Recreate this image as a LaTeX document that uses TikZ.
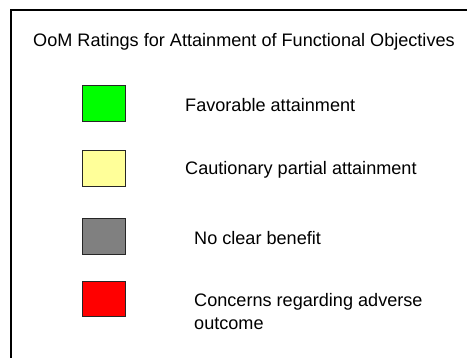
\documentclass[tikz,border=0pt]{standalone}
\usepackage{fontspec}
\setmainfont{Liberation Sans}
\usetikzlibrary{positioning}
\definecolor{favgreen}{RGB}{0, 255, 0}
\definecolor{cautyellow}{RGB}{255, 255, 153}
\definecolor{nogray}{RGB}{128, 128, 128}
\definecolor{concred}{RGB}{255, 0, 0}

\begin{document}
\begin{tikzpicture}[x=1pt, y=-1pt,
    swatch/.style={draw=black!85, line width=0.9pt, minimum width=43.4pt, minimum height=35.3pt, inner sep=0pt},
    legtext/.style={anchor=base west, inner sep=0pt, align=left, font=\fontsize{18.1}{23.3}\selectfont}]
        \useasboundingbox (0,0) rectangle (467,358);
        \clip (0,0) rectangle (467,358);

        % Legend frame (runs off the right and bottom edges)
        \draw[line width=1.5pt] (11,10) rectangle (490,380);

        % Title
        \node[legtext] (title) at (33,46.7) {OoM Ratings for Attainment of Functional Objectives};

        % Colour swatches
        \node[swatch, fill=favgreen] (sgreen) at (104,103.4) {};
        \node[swatch, fill=cautyellow] (syellow) at (104,168.4) {};
        \node[swatch, fill=nogray] (sgray) at (104,236.5) {};
        \node[swatch, fill=concred] (sred) at (104,299.3) {};

        % Rating descriptions (base of a two-line node is its last line)
        \node[legtext] (tgreen) at (185,111.7) {Favorable attainment};
        \node[legtext] (tyellow) at (185,175) {Cautionary partial attainment};
        \node[legtext] (tgray) at (194,245) {No clear benefit};
        \node[legtext] (tred) at (194,330) {Concerns regarding adverse\\outcome};
    \end{tikzpicture}
\end{document}
